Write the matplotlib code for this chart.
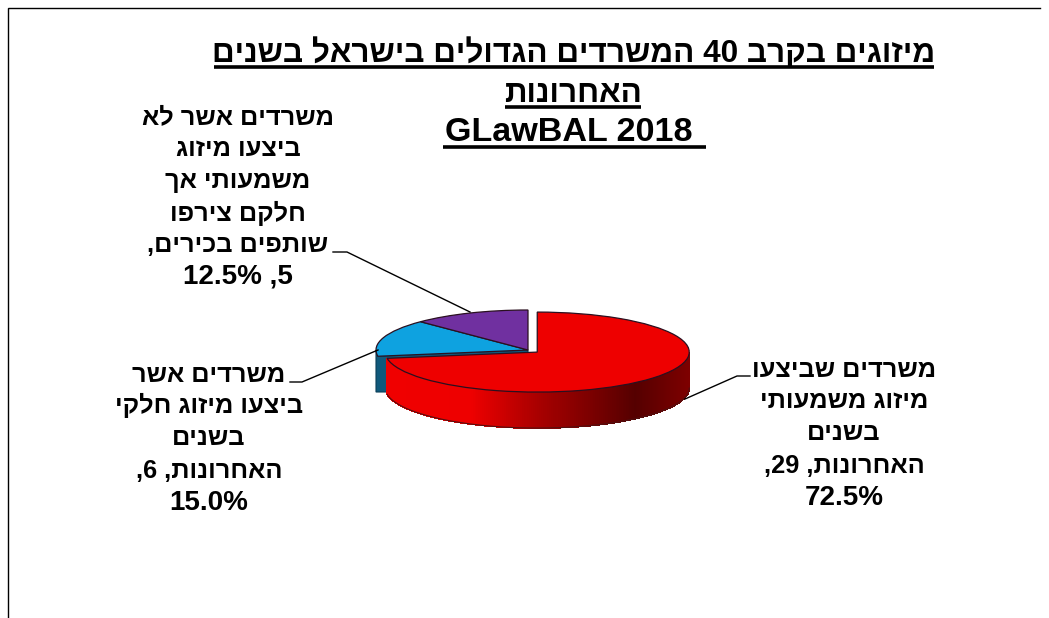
import re
import numpy as np
import matplotlib
matplotlib.use("Agg")
import matplotlib.pyplot as plt
from matplotlib.patches import Polygon

FONT = ["Liberation Sans", "DejaVu Sans"]
W, H = 1049, 618

values = [29, 6, 5]
face_colors = ["#ee0000", "#0ea2e0", "#7030a0"]
explode = [0.08, 0, 0]
title_lines = ["מיזוגים בקרב 40 המשרדים הגדולים בישראל בשנים", "האחרונות", "GLawBAL 2018"]
label_red = ["משרדים שביצעו", "מיזוג משמעותי", "בשנים", "האחרונות, 29,", "72.5%"]
label_blue = ["משרדים אשר", "ביצעו מיזוג חלקי", "בשנים", "האחרונות, 6,", "15.0%"]
label_purple = ["משרדים אשר לא", "ביצעו מיזוג", "משמעותי אך", "חלקם צירפו", "שותפים בכירים,", "12.5% ,5"]


def is_rtl(s):
    return re.search(r"[\u0590-\u05FF]", s) is not None


def visual(s):
    """matplotlib has no bidi support: put right-to-left text in display order."""
    if not is_rtl(s):
        return s
    rev = s[::-1]
    return re.sub(r"[0-9A-Za-z.%]+", lambda m: m.group(0)[::-1], rev)


def wall_color(u):
    stops = [-1, -0.43, 0.0, 0.65, 1.0]
    r = np.interp(u, stops, [240, 238, 170, 85, 125])
    return (r / 255, 0, 0)


fig = plt.figure(figsize=(W / 100, H / 100), dpi=100)

# pixel overlay for frame, text and leader lines
ov = fig.add_axes([0, 0, 1, 1], zorder=3)
ov.set_xlim(0, W)
ov.set_ylim(H, 0)
ov.axis("off")
ov.patch.set_alpha(0)

# pie axes: one data unit = rx pixels horizontally, ry pixels vertically
cx, cy, rx, ry, depth_px = 528.0, 350.0, 152.0, 40.0, 36.0
xlo, xhi, ylo, yhi = -1.3, 1.3, -2.4, 1.3
ax = fig.add_axes([(cx + xlo * rx) / W, 1 - (cy - ylo * ry) / H,
                   (xhi - xlo) * rx / W, (yhi - ylo) * ry / H], zorder=1)
wedges, _ = ax.pie(values, colors=face_colors, startangle=90, counterclock=False,
                   explode=explode, radius=1.0,
                   wedgeprops=dict(edgecolor="#2a1020", linewidth=0.9, zorder=5))
ax.set_aspect("auto")
ax.set_xlim(xlo, xhi)
ax.set_ylim(ylo, yhi)
depth = depth_px / ry

# blue wall and cut face (behind the red slice)
blue = wedges[1]
bx, by = blue.center
bottom = by - 42.0 / ry
edge_angle = np.radians(max(blue.theta1, blue.theta2))
rim = (bx + np.cos(edge_angle), by + np.sin(edge_angle))
ax.add_patch(Polygon([(bx - 1, by), rim, (bx, by), (bx, bottom), (bx - 1, bottom)],
                     closed=True, facecolor="#10597c", edgecolor="#0b3f58", linewidth=0.8, zorder=2))

# red wall: strips along the visible front of the slice
red = wedges[0]
rcx, rcy = red.center
thetas = np.radians(np.linspace(min(red.theta1, red.theta2) + 360, 360, 220))
for th0, th1 in zip(thetas[:-1], thetas[1:]):
    x0, x1 = rcx + np.cos(th0), rcx + np.cos(th1)
    y0, y1 = rcy + np.sin(th0), rcy + np.sin(th1)
    col = wall_color((np.cos(th0) + np.cos(th1)) / 2)
    ax.add_patch(Polygon([(x0, y0), (x1, y1), (x1, y1 - depth), (x0, y0 - depth)],
                         closed=True, facecolor=col, edgecolor=col, linewidth=0.6,
                         antialiased=False, zorder=3))
xs = rcx + np.cos(thetas)
ys = rcy + np.sin(thetas)
ax.plot(xs, ys - depth, color="#501010", lw=0.8, zorder=4)

# frame
ov.plot([8, 8, 1040], [618, 8, 8], color="black", lw=1.0, solid_joinstyle="miter")

# title
title_base = [62, 102, 141]
title_x = [574, 573, 569]
title_size = [22.7, 22.7, 24.6]
underlines = [(214, 934, 67), (505, 641, 107), (443, 706, 147)]
for line, x, y, fs in zip(title_lines, title_x, title_base, title_size):
    ov.text(x, y, visual(line), ha="center", va="baseline", fontsize=fs, fontweight="bold",
            family=FONT, color="black")
for x0, x1, y in underlines:
    ov.plot([x0, x1], [y, y], color="black", lw=2.6, solid_capstyle="butt")

# labels
for lines, x, base in [(label_purple, 238, [124, 156, 188, 221, 252, 284]),
                       (label_blue, 209, [382, 413, 445, 478, 510]),
                       (label_red, 844, [377, 408, 440, 473, 505])]:
    for line, y in zip(lines, base):
        ov.text(x, y, visual(line), ha="center", va="baseline",
                fontsize=18.3 if is_rtl(line) and "%" not in line else 20, fontweight="bold",
                family=FONT, color="black")

# leader lines
for px, py in [([470, 347, 333], [312, 252, 252]),
               ([378, 302, 290], [350, 382, 382]),
               ([685, 737, 750], [399, 376, 376])]:
    ov.plot(px, py, color="black", lw=1.0)

fig.savefig("out.png", dpi=100, facecolor="white")
